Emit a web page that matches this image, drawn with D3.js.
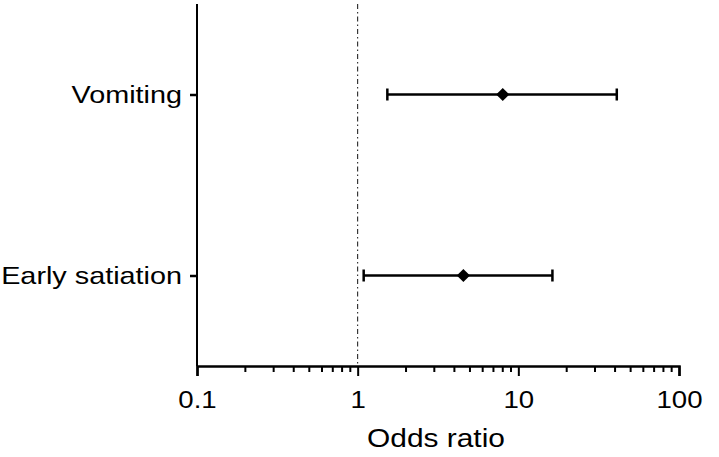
<!DOCTYPE html>
<html lang="en">
<head>
<meta charset="UTF-8">
<title>Odds ratio</title>
<style>
  body { margin: 0; background: #fff; }
  text { font-family: "Liberation Sans", Arial, sans-serif; fill: #000; }
</style>
</head>
<body>
<script src="https://d3js.org/d3.v7.min.js"></script>
<script>
  const categories = ['Vomiting', 'Early satiation']
  const oddsRatio = [8.0, 4.55]
  const lowerCI = [1.53, 1.09]
  const upperCI = [41, 16.3]
  const xTicks = [0.1, 1, 10, 100]

  const width = 719, height = 457
  const margin = { top: 4, right: 40, bottom: 91, left: 197 }
  // the source font is wider than it is tall
  const stretch = 1.2

  const svg = d3.select('body').append('svg')
    .attr('width', width)
    .attr('height', height)

  const x = d3.scaleLog()
    .domain([0.1, 100])
    .range([margin.left, width - margin.right])

  const y = d3.scalePoint()
    .domain(categories)
    .range([margin.top, height - margin.bottom])
    .padding(0.5)

  const bottom = height - margin.bottom

  // reference line at OR = 1
  svg.append('line')
    .attr('x1', x(1)).attr('x2', x(1))
    .attr('y1', margin.top).attr('y2', bottom)
    .attr('stroke', '#111')
    .attr('stroke-width', 1)
    .attr('stroke-dasharray', '5,3,1.5,3')

  // minor ticks
  const minor = []
  for (let d = 0.1; d < 100; d *= 10) {
    for (let k = 2; k <= 9; k++) minor.push(d * k)
  }
  svg.append('g').selectAll('line')
    .data(minor)
    .enter()
    .append('line')
    .attr('x1', d => x(d)).attr('x2', d => x(d))
    .attr('y1', bottom).attr('y2', bottom + 6)
    .attr('stroke', '#000')
    .attr('stroke-width', 2)

  // x axis
  const xAxis = svg.append('g')
    .attr('transform', `translate(0,${bottom})`)
    .call(d3.axisBottom(x).tickValues(xTicks).tickFormat(d3.format('~g')).tickSize(10))
  xAxis.select('.domain').attr('stroke-width', 2.5)
  xAxis.selectAll('.tick line').attr('stroke-width', 2)
  xAxis.selectAll('.tick text')
    .attr('font-family', null)
    .style('font-size', '23px')
    .attr('y', 42).attr('dy', null)
    .attr('transform', `scale(${stretch},1)`)

  // y axis
  const yAxis = svg.append('g')
    .attr('transform', `translate(${margin.left},0)`)
    .call(d3.axisLeft(y).tickSize(7))
  yAxis.select('.domain').attr('stroke-width', 2).attr('d', `M0,${margin.top}V${bottom}`)
  yAxis.selectAll('.tick line').attr('stroke-width', 2.5)
  yAxis.selectAll('.tick text')
    .attr('font-family', null)
    .style('font-size', '24px')
    .attr('x', -15 / stretch).attr('dy', '0.34em')
    .attr('transform', `scale(${stretch},1)`)

  // axis title
  const tx = 436
  svg.append('text')
    .attr('x', tx / 1.15)
    .attr('y', 447)
    .attr('transform', 'scale(1.15,1)')
    .attr('text-anchor', 'middle')
    .style('font-size', '26px')
    .text('Odds ratio')

  // error bars
  const rows = categories.map((c, i) => ({ c, or: oddsRatio[i], lo: lowerCI[i], hi: upperCI[i] }))
  const g = svg.append('g')
  const bars = g.selectAll('g.row')
    .data(rows)
    .enter()
    .append('g')
    .attr('class', 'row')

  bars.append('line')
    .attr('x1', d => x(d.lo)).attr('x2', d => x(d.hi))
    .attr('y1', d => y(d.c)).attr('y2', d => y(d.c))
    .attr('stroke', '#000').attr('stroke-width', 2.5)

  bars.selectAll('line.cap')
    .data(d => [{ v: d.lo, c: d.c }, { v: d.hi, c: d.c }])
    .enter()
    .append('line')
    .attr('class', 'cap')
    .attr('x1', d => x(d.v)).attr('x2', d => x(d.v))
    .attr('y1', d => y(d.c) - 6).attr('y2', d => y(d.c) + 6)
    .attr('stroke', '#000').attr('stroke-width', 2.5)

  bars.append('path')
    .attr('d', d3.symbol().type(d3.symbolDiamond2).size(110))
    .attr('transform', d => `translate(${x(d.or)},${y(d.c)})`)
    .attr('fill', '#000')
</script>
</body>
</html>
